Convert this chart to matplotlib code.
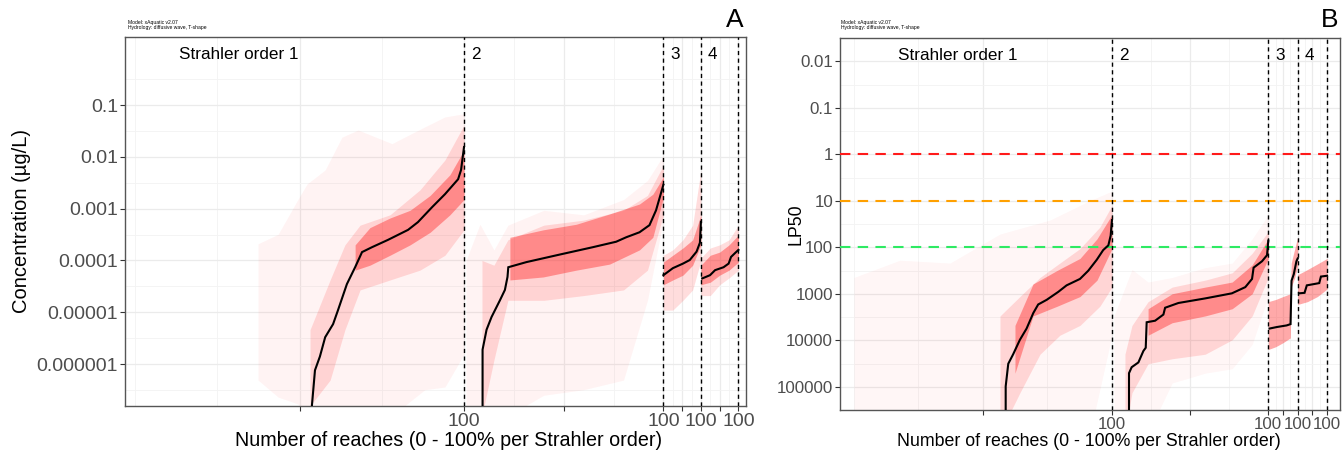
import matplotlib
matplotlib.use("Agg")
import matplotlib.pyplot as plt
import matplotlib.transforms as mtransforms
import numpy as np

plt.rcParams['font.family'] = ['Liberation Sans', 'DejaVu Sans']

# ---------------- data ----------------
seg_names = ["Strahler order 1", "2", "3", "4"]
seg_widths = [100.0, 60.6, 11.4, 11.4]          # relative axis share of each Strahler order
x_major_pct = [50, 100]
x_minor_pct = [25, 75]
x_tick_labels = ["", "100"]

conc_ticks = [0.1, 0.01, 0.001, 0.0001, 0.00001, 0.000001]
conc_tick_labels = ["0.1", "0.01", "0.001", "0.0001", "0.00001", "0.000001"]
lp50_ticks = [0.01, 0.1, 1, 10, 100, 1000, 10000, 100000]
lp50_tick_labels = ["0.01", "0.1", "1", "10", "100", "1000", "10000", "100000"]
lp50_thresholds = [1, 10, 100]
lp50_threshold_colors = ["#FF1A1A", "#FFA000", "#2EEA63"]

# ----- Panel A: concentration (ug/L), % position within each Strahler order -----
a1_med_pct = [53.5, 54.7, 56.2, 57.8, 60.2, 61.7, 64.4, 66.9, 69.0, 72.0, 76.9, 83.0, 86.0, 90.3, 94.2, 98.2, 99.1, 100]
a1_med_val = [1e-7, 7.6e-7, 1.4e-6, 3.3e-6, 5.9e-6, 1.1e-5, 3.5e-5, 7.4e-5, 1.45e-4, 1.8e-4, 2.5e-4, 3.9e-4, 5.5e-4, 1.07e-3, 1.9e-3, 3.7e-3, 5.6e-3, 1.55e-2]
a1_faint_pct = [37.4, 43.5, 49.5, 52.3, 57.8, 62.9, 67.8, 78.1, 88.1, 94.2, 100]
a1_faint_lo = [4.9e-7, 2.3e-7, 1.7e-7, 1e-7, 1e-7, 1e-7, 1e-7, 1e-7, 3.2e-7, 3.6e-7, 1.55e-6]
a1_faint_hi = [2.1e-4, 3.2e-4, 1.5e-3, 3.0e-3, 5.6e-3, 2.4e-2, 3.3e-2, 1.8e-2, 3.8e-2, 5.9e-2, 6.8e-2]
a1_mid_pct = [53.2, 59.3, 63.8, 68.4, 77.5, 86.6, 94.2, 100]
a1_mid_lo = [1.55e-7, 4.9e-7, 4.6e-6, 2.7e-5, 4.2e-5, 6.5e-5, 1.26e-4, 3.9e-4]
a1_mid_hi = [4.6e-6, 4.2e-5, 2.0e-4, 4.8e-4, 7.6e-4, 2.3e-3, 8.7e-3, 4.1e-2]
a1_core_pct = [66.9, 71.4, 77.5, 83.6, 89.7, 95.7, 100]
a1_core_lo = [6.5e-5, 8.1e-5, 1.26e-4, 2.0e-4, 3.5e-4, 7.6e-4, 1.5e-3]
a1_core_hi = [2.0e-4, 4.3e-4, 6.6e-4, 9.3e-4, 1.8e-3, 4.5e-3, 1.35e-2]

a2_med_pct = [9.3, 9.3, 11.3, 13.8, 18, 20.5, 21.8, 22.2, 31.3, 48, 64.5, 76.3, 81.3, 88, 93, 96.3, 100]
a2_med_val = [1e-7, 1.9e-6, 4.6e-6, 8.1e-6, 1.7e-5, 2.7e-5, 4.8e-5, 7.4e-5, 9.3e-5, 1.3e-4, 1.8e-4, 2.3e-4, 2.8e-4, 3.5e-4, 4.8e-4, 9.3e-4, 2.9e-3]
a2_faint_pct = [1, 8, 15, 22, 40, 60, 80, 92, 100]
a2_faint_lo = [1e-7, 1e-7, 1e-7, 1e-7, 2.5e-7, 3.2e-7, 4.9e-7, 1.7e-5, 6.0e-4]
a2_faint_hi = [1.0e-4, 5.0e-4, 1.6e-4, 4.8e-4, 9.3e-4, 7.6e-4, 1.5e-3, 3.5e-3, 1.07e-2]
a2_mid_pct = [9, 15, 22, 40, 60, 80, 92, 100]
a2_mid_lo = [1e-7, 1.2e-6, 1.7e-5, 1.7e-5, 2.1e-5, 2.7e-5, 6.5e-5, 7.6e-4]
a2_mid_hi = [1.0e-4, 8.1e-5, 2.5e-4, 4.8e-4, 6.0e-4, 9.3e-4, 1.8e-3, 6.9e-3]
a2_core_pct = [23, 39.7, 56.3, 73, 88, 94.7, 100]
a2_core_lo = [4.2e-5, 4.8e-5, 6.5e-5, 8.5e-5, 1.6e-4, 2.8e-4, 1.66e-3]
a2_core_hi = [2.8e-4, 3.9e-4, 5.0e-4, 7.9e-4, 1.23e-3, 1.9e-3, 4.1e-3]

a3_med_pct = [0, 25.2, 52.2, 70.3, 88.4, 97.3, 100]
a3_med_val = [5.2e-5, 7.1e-5, 8.7e-5, 1.02e-4, 1.48e-4, 2.2e-4, 5.6e-4]
a3_band_pct = [0, 25, 52, 78, 100]
a3_faint_lo = [1.1e-5, 1.1e-5, 1.7e-5, 2.7e-5, 1.0e-4]
a3_faint_hi = [1.26e-4, 1.6e-4, 2.5e-4, 4.8e-4, 5.6e-3]
a3_core_lo = [3.4e-5, 4.2e-5, 5.2e-5, 8.1e-5, 2.0e-4]
a3_core_hi = [9.3e-5, 1.26e-4, 1.74e-4, 2.5e-4, 7.6e-4]

a4_med_pct = [3.5, 24.3, 37.8, 60.3, 73.8, 80.3, 91.9, 100]
a4_med_val = [4.5e-5, 5.2e-5, 6.5e-5, 7.4e-5, 8.7e-5, 1.17e-4, 1.41e-4, 1.6e-4]
a4_band_pct = [0, 25, 50, 75, 100]
a4_faint_lo = [2.1e-5, 2.1e-5, 3.4e-5, 4.6e-5, 6.5e-5]
a4_faint_hi = [1.12e-4, 1.74e-4, 2.0e-4, 2.5e-4, 4.8e-4]
a4_core_lo = [3.4e-5, 3.8e-5, 5.2e-5, 6.5e-5, 9.3e-5]
a4_core_hi = [8.1e-5, 1.26e-4, 1.45e-4, 2.0e-4, 3.1e-4]

# ----- Panel B: LP50 -----
b1_med_pct = [58.8, 58.8, 59.8, 61.7, 64.3, 66.9, 69.5, 71.4, 74.7, 79.2, 82.4, 87.6, 90.8, 94.1, 96.6, 98.6, 99.5, 100]
b1_med_val = [1e6, 9.8e4, 3.2e4, 2.0e4, 9.8e3, 5.6e3, 2.6e3, 1.7e3, 1.35e3, 910, 660, 480, 320, 186, 115, 91, 56, 26]
b1_faint_pct = [0, 17.8, 37.2, 56.6, 76.0, 91.5, 100]
b1_faint_lo = [447, 190, 219, 52, 26, 9.9, 6.2]
b1_faint_hi = [1e6, 1e6, 1e6, 1e6, 1e6, 1e6, 7.8e3]
b1_mid_pct = [56.6, 64.3, 72.1, 79.8, 87.6, 95.3, 100]
b1_mid_lo = [3.0e3, 1.15e3, 447, 219, 107, 37, 12.6]
b1_mid_hi = [1e6, 1.35e5, 2.0e4, 7.8e3, 4.8e3, 1.86e3, 720]
b1_core_pct = [62.4, 69.4, 78.7, 87.6, 94.2, 100]
b1_core_lo = [4.8e3, 617, 316, 174, 66, 20]
b1_core_hi = [5.1e4, 3.0e3, 1.86e3, 1.15e3, 510, 107]

b2_med_pct = [10.9, 10.9, 12.6, 16.9, 20.1, 21.6, 22.2, 27.6, 32.9, 34.0, 42.5, 59.6, 76.7, 85.3, 89.6, 90.6, 96.0, 99.2, 100]
b2_med_val = [1e6, 5.1e4, 3.8e4, 3.0e4, 1.7e4, 1.45e4, 4.1e3, 3.8e3, 2.8e3, 2.0e3, 1.58e3, 1.26e3, 980, 720, 480, 275, 200, 148, 72]
b2_faint_pct = [1.3, 12.8, 23.1, 38.5, 59.6, 76.9, 89.7, 100]
b2_faint_lo = [3.0e3, 300, 560, 447, 275, 219, 66, 20]
b2_faint_hi = [1e6, 1e6, 1e6, 8.3e4, 5.1e4, 4.1e4, 1.23e4, 1.15e3]
b2_mid_pct = [8.3, 12.8, 23.1, 38.5, 59.6, 76.9, 89.7, 100]
b2_mid_lo = [2.0e4, 4.8e3, 1.48e3, 720, 510, 355, 135, 46]
b2_mid_hi = [1e6, 1.35e5, 3.2e4, 2.5e4, 2.0e4, 9.8e3, 3.0e3, 447]
b2_core_pct = [23.1, 38.5, 59.6, 76.9, 89.7, 100]
b2_core_lo = [2.1e3, 1.0e3, 720, 560, 240, 66]
b2_core_hi = [7.8e3, 4.2e3, 3.0e3, 2.1e3, 1.0e3, 174]

b3_med_pct = [4.3, 28.9, 62.3, 75.7, 79.0, 86.7, 95.7, 100]
b3_med_val = [5.6e3, 5.2e3, 4.8e3, 4.5e3, 525, 380, 200, 174]
b3_band_pct = [0, 25, 50, 75, 78, 90, 100]
b3_band_lo = [1.48e3, 1.33e3, 1.15e3, 1.0e3, 219, 107, 60]
b3_band_hi = [1.58e4, 1.38e4, 1.13e4, 8.9e3, 720, 447, 250]

b4_med_pct = [4.3, 23.3, 31.0, 56.7, 73.3, 79.0, 100]
b4_med_val = [980, 955, 660, 617, 590, 427, 410]
b4_band_pct = [0, 33, 67, 100]
b4_band_lo = [390, 302, 229, 174]
b4_band_hi = [1.7e3, 1.48e3, 1.15e3, 790]

# ---------------- layout helpers ----------------
seg_starts = np.concatenate([[0.0], np.cumsum(seg_widths)[:-1]])
seg_ends = np.cumsum(seg_widths)


def seg_x(k, pct):
    return seg_starts[k] + np.asarray(pct, dtype=float) / 100.0 * seg_widths[k]


RED = "#FF1E1E"
A_FAINT, A_MID, A_CORE = 0.05, 0.15, 0.40


def band(ax, k, pct, lo, hi, alpha):
    ax.fill_between(seg_x(k, pct), lo, hi, color=RED, alpha=alpha, lw=0, zorder=1)


def median(ax, k, pct, val):
    ax.plot(seg_x(k, pct), val, color="black", lw=1.5, zorder=5, solid_joinstyle="miter")


def style_axis(ax, xlim, ticks, ticklabels, ylim, tick_fs, invert=False):
    ax.set_yscale("log")
    ax.set_xlim(*xlim)
    ax.set_ylim(*ylim)
    if invert:
        ax.invert_yaxis()
    xmaj, xlab, xmin = [], [], []
    for k in range(4):
        for p, lab in zip(x_major_pct, x_tick_labels):
            xmaj.append(float(seg_x(k, p)))
            xlab.append(lab)
        for p in x_minor_pct:
            xmin.append(float(seg_x(k, p)))
    xmin.append(0.0)
    ax.set_xticks(xmaj)
    ax.set_xticklabels(xlab)
    ax.set_xticks(xmin, minor=True)
    ax.set_yticks(ticks)
    ax.set_yticklabels(ticklabels)
    dec = np.log10(np.array(ticks, dtype=float))
    halfs = 10 ** (np.arange(dec.min() - 1, dec.max() + 1) + 0.5)
    ax.set_yticks(halfs, minor=True)
    ax.yaxis.set_minor_formatter(matplotlib.ticker.NullFormatter())
    ax.set_axisbelow(True)
    ax.grid(which="major", color="#EBEBEB", lw=0.9, zorder=0)
    ax.grid(which="minor", color="#F3F3F3", lw=0.6, zorder=0)
    ax.tick_params(which="major", direction="out", length=3.5, width=0.8,
                   color="#333333", labelcolor="#4D4D4D", labelsize=tick_fs, pad=1.5)
    ax.tick_params(which="minor", length=0)
    for s in ax.spines.values():
        s.set_color("#555555")
        s.set_linewidth(1.0)
    for xb in seg_ends:
        ax.axvline(xb, color="black", lw=1.0, ls=(0, (3, 2.5)), zorder=4)


def order_labels(ax, fs):
    trans = mtransforms.blended_transform_factory(ax.transData, ax.transAxes)
    ax.annotate(seg_names[0], xy=(0, 0.952), xycoords=trans, xytext=(32, 0),
                textcoords="offset points", fontsize=fs, va="center", ha="left")
    for k in range(1, 4):
        ax.annotate(seg_names[k], xy=(seg_starts[k], 0.952), xycoords=trans,
                    xytext=(5, 0), textcoords="offset points", fontsize=fs,
                    va="center", ha="left")


fig = plt.figure(figsize=(13.42, 4.54), dpi=100)
W, H = 1342.0, 454.0
axA = fig.add_axes([125 / W, 48 / H, 621 / W, 369 / H])
axB = fig.add_axes([840 / W, 44 / H, 500 / W, 372 / H])

# ---------------- panel A ----------------
style_axis(axA, (-3.04, 185.7), conc_ticks, conc_tick_labels, (1.55e-7, 2.06), 14)
band(axA, 0, a1_faint_pct, a1_faint_lo, a1_faint_hi, A_FAINT)
band(axA, 0, a1_mid_pct, a1_mid_lo, a1_mid_hi, A_MID)
band(axA, 0, a1_core_pct, a1_core_lo, a1_core_hi, A_CORE)
band(axA, 1, a2_faint_pct, a2_faint_lo, a2_faint_hi, A_FAINT)
band(axA, 1, a2_mid_pct, a2_mid_lo, a2_mid_hi, A_MID)
band(axA, 1, a2_core_pct, a2_core_lo, a2_core_hi, A_CORE)
band(axA, 2, a3_band_pct, a3_faint_lo, a3_faint_hi, A_MID)
band(axA, 2, a3_band_pct, a3_core_lo, a3_core_hi, A_CORE)
band(axA, 3, a4_band_pct, a4_faint_lo, a4_faint_hi, A_MID)
band(axA, 3, a4_band_pct, a4_core_lo, a4_core_hi, A_CORE)
median(axA, 0, a1_med_pct, a1_med_val)
median(axA, 1, a2_med_pct, a2_med_val)
median(axA, 2, a3_med_pct, a3_med_val)
median(axA, 3, a4_med_pct, a4_med_val)
order_labels(axA, 12.3)

# ---------------- panel B ----------------
style_axis(axB, (-5.43, 188.4), lp50_ticks, lp50_tick_labels, (4.5e-3, 2.1e5), 12.2, invert=True)
for v, c in zip(lp50_thresholds, lp50_threshold_colors):
    axB.axhline(v, color=c, lw=1.5, ls=(0, (5, 3.5)), zorder=3)
band(axB, 0, b1_faint_pct, b1_faint_lo, b1_faint_hi, 0.04)
band(axB, 0, b1_mid_pct, b1_mid_lo, b1_mid_hi, A_MID)
band(axB, 0, b1_core_pct, b1_core_lo, b1_core_hi, A_CORE)
band(axB, 1, b2_faint_pct, b2_faint_lo, b2_faint_hi, 0.04)
band(axB, 1, b2_mid_pct, b2_mid_lo, b2_mid_hi, A_MID)
band(axB, 1, b2_core_pct, b2_core_lo, b2_core_hi, A_CORE)
band(axB, 2, b3_band_pct, b3_band_lo, b3_band_hi, 0.38)
band(axB, 3, b4_band_pct, b4_band_lo, b4_band_hi, 0.38)
median(axB, 0, b1_med_pct, b1_med_val)
median(axB, 1, b2_med_pct, b2_med_val)
median(axB, 2, b3_med_pct, b3_med_val)
median(axB, 3, b4_med_pct, b4_med_val)
order_labels(axB, 12.3)

# ---------------- texts ----------------
xlabel = "Number of reaches (0 - 100% per Strahler order)"
fig.text(449 / W, 1 - 441 / H, xlabel, fontsize=14.2, ha="center", va="center")
fig.text(1089 / W, 1 - 441 / H, xlabel, fontsize=12.8, ha="center", va="center")
fig.text(22 / W, 1 - 221 / H, "Concentration (µg/L)", fontsize=14.5, rotation=90,
         ha="center", va="center")
fig.text(796 / W, 1 - 224 / H, "LP50", fontsize=12.8, rotation=90, ha="center", va="center")
fig.text(735 / W, 1 - 20 / H, "A", fontsize=19, ha="center", va="center")
fig.text(1330 / W, 1 - 20 / H, "B", fontsize=19, ha="center", va="center")
meta = "Model: xAquatic v2.07\nHydrology: diffusive wave, T-shape"
fig.text(128 / W, 1 - 30 / H, meta, fontsize=3.6, ha="left", va="bottom", linespacing=1.0)
fig.text(841 / W, 1 - 30 / H, meta, fontsize=3.6, ha="left", va="bottom", linespacing=1.0)

fig.savefig("out.png", dpi=100, facecolor="white")
